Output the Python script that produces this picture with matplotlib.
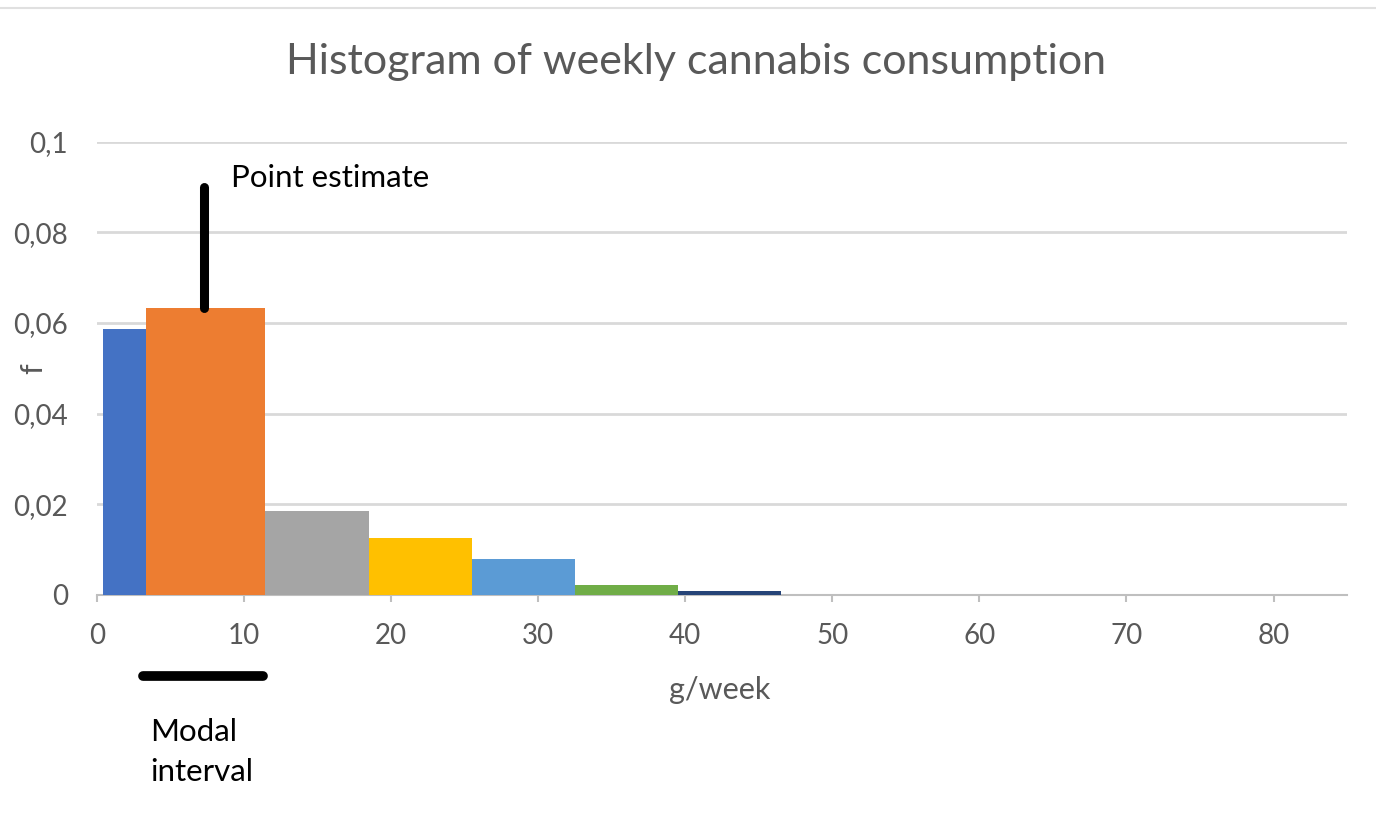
import numpy as np
import matplotlib.pyplot as plt

plt.rcParams['font.family'] = ['Lato', 'DejaVu Sans']

# Histogram bins (g/week) and relative frequency density
bin_edges = [0.4, 3.35, 11.45, 18.5, 25.5, 32.5, 39.5, 46.5]
freq = [0.0587, 0.0634, 0.0186, 0.0125, 0.0079, 0.0021, 0.0008]
bar_colors = ['#4472C4', '#ED7D31', '#A5A5A5', '#FFC000', '#5B9BD5', '#70AD47', '#264478']

# Annotations
point_estimate = 7.3
point_top = 0.090
modal_interval = [3.15, 11.3]

xticks = [0, 10, 20, 30, 40, 50, 60, 70, 80]
yticks = [0, 0.02, 0.04, 0.06, 0.08, 0.1]
ytick_labels = ['0', '0,02', '0,04', '0,06', '0,08', '0,1']

grey = '#595959'

fig = plt.figure(figsize=(13.76, 8.36), dpi=100)
ax = fig.add_axes([0.0705, 0.2883, 0.979 - 0.0705, 0.8305 - 0.2883])

lefts = np.array(bin_edges[:-1])
widths = np.diff(bin_edges)
ax.bar(lefts, freq, width=widths, align='edge', color=bar_colors, lw=0, zorder=3)

# Point estimate marker
ax.plot([point_estimate, point_estimate], [freq[1], point_top], color='black', lw=6.5,
        solid_capstyle='round', zorder=4)
ax.text(9.1, 0.0921, 'Point estimate', fontsize=22.5, color='black', va='center', ha='left')

# Modal interval marker below the axis
ax.plot(modal_interval, [-0.0179, -0.0179], color='black', lw=7, solid_capstyle='round',
        clip_on=False, zorder=4)
ax.text(3.6, -0.0272, 'Modal\ninterval', fontsize=22.5, color='black', va='top', ha='left',
        linespacing=1.5)

ax.set_xlim(0, 85)
ax.set_ylim(0, 0.1)
ax.set_xticks(xticks)
ax.set_yticks(yticks)
ax.set_yticklabels(ytick_labels)
ax.tick_params(axis='y', length=0, pad=21, labelsize=20, labelcolor=grey)
ax.tick_params(axis='x', length=5, width=1.5, color='#bfbfbf', pad=15, labelsize=20, labelcolor=grey)
ax.grid(axis='y', color='#d9d9d9', lw=2, zorder=0)
for s in ['top', 'right', 'left']:
    ax.spines[s].set_visible(False)
ax.spines['bottom'].set_color('#bfbfbf')
ax.spines['bottom'].set_linewidth(1.5)

ax.set_xlabel('g/week', fontsize=22, color=grey)
ax.xaxis.set_label_coords(0.498, -0.178)
ax.set_ylabel('f', fontsize=22, color=grey)
ax.yaxis.set_label_coords(-0.04, 0.5)
fig.text(0.506, 0.926, 'Histogram of weekly cannabis consumption', fontsize=31, color=grey,
         ha='center', va='center')

# thin border at the top of the picture
fig.add_artist(plt.Line2D([0, 1], [0.99, 0.99], color='#e0e0e0', lw=1.5))

fig.savefig('out.png', dpi=100)
